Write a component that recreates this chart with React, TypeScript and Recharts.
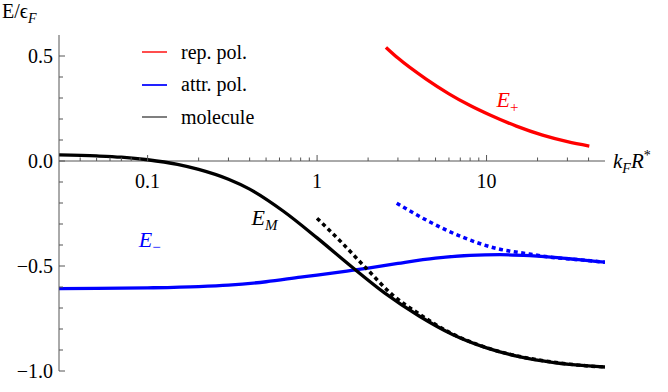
import React from "react";
import {
  LineChart,
  Line,
  XAxis,
  YAxis,
  ReferenceLine,
  ReferenceDot,
  Legend,
} from "recharts";

const W = 668;
const H = 392;
const MARGIN = { top: 35, right: 63, bottom: 0, left: 0 };
const Y_AXIS_W = 59;
const X_AXIS_H = 21;
const X_DOMAIN: [number, number] = [0.03, 50];
const Y_DOMAIN: [number, number] = [-1.0, 0.6];
const FONT = "'Liberation Serif', 'DejaVu Serif', serif";
const AXIS = "#555";

// molecule (solid)
const molX = [0.03, 0.05, 0.07, 0.1, 0.15, 0.2, 0.3, 0.4, 0.63, 1.0, 1.58, 2.5, 4.0, 6.3, 10, 15.8, 25, 40, 50];
const molY = [0.029, 0.024, 0.018, 0.006, -0.016, -0.04, -0.087, -0.134, -0.238, -0.366, -0.5, -0.628, -0.738, -0.826, -0.89, -0.933, -0.96, -0.976, -0.981];

// molecule asymptote (dotted)
const molAsyX = [1.0, 1.35, 1.95, 2.79, 4.0, 6.0, 9.0, 14, 22, 35, 50];
const molAsyY = [-0.273, -0.376, -0.511, -0.638, -0.728, -0.815, -0.876, -0.922, -0.952, -0.972, -0.981];

// attractive polaron (solid)
const attrX = [0.03, 0.05, 0.1, 0.2, 0.3, 0.5, 0.8, 1.0, 1.5, 2.0, 3.0, 5.0, 8.0, 12, 18, 25, 35, 50];
const attrY = [-0.608, -0.607, -0.604, -0.598, -0.591, -0.575, -0.553, -0.543, -0.524, -0.51, -0.488, -0.463, -0.449, -0.446, -0.451, -0.459, -0.47, -0.482];

// attractive polaron asymptote (dotted)
const attrAsyX = [2.95, 4.6, 7.23, 11.4, 17.9, 24.5, 35, 50];
const attrAsyY = [-0.201, -0.289, -0.363, -0.416, -0.443, -0.459, -0.47, -0.482];

// repulsive polaron
const repX = [2.55, 3.0, 4.4, 6.0, 8.0, 10.4, 15, 21.4, 30, 40.4];
const repY = [0.541, 0.49, 0.39, 0.32, 0.264, 0.22, 0.166, 0.123, 0.092, 0.071];

const xMajor = [0.1, 1, 10];
const xTicks = [0.04, 0.05, 0.06, 0.07, 0.08, 0.09, 0.1, 0.2, 0.3, 0.4, 0.5, 0.6, 0.7, 0.8, 0.9, 1, 2, 3, 4, 5, 6, 7, 8, 9, 10, 20, 30, 40];
const yMajor = [-1.0, -0.5, 0.0, 0.5];
const yTicks = [-1.0, -0.9, -0.8, -0.7, -0.6, -0.5, -0.4, -0.3, -0.2, -0.1, 0.0, 0.1, 0.2, 0.3, 0.4, 0.5];

const legendOrder = ["rep. pol.", "attr. pol.", "molecule"];
const legendColors: Record<string, string> = {
  "rep. pol.": "#ff4d4d",
  "attr. pol.": "#2222ff",
  molecule: "#7f7f7f",
};

const toPoints = (xs: number[], ys: number[]) => xs.map((x, i) => ({ x, y: ys[i] }));

const molData = toPoints(molX, molY);
const molAsyData = toPoints(molAsyX, molAsyY);
const attrData = toPoints(attrX, attrY);
const attrAsyData = toPoints(attrAsyX, attrAsyY);
const repData = toPoints(repX, repY);

// the x axis crosses at y = 0, so shift its ticks up from the plot bottom
const plotH = H - MARGIN.top - MARGIN.bottom - X_AXIS_H;
const zeroShift = (plotH * (0 - Y_DOMAIN[0])) / (Y_DOMAIN[1] - Y_DOMAIN[0]);

function XTick(props: any) {
  const { x, y, payload } = props;
  const v = payload.value;
  const major = xMajor.includes(v);
  const y0 = y - zeroShift;
  return (
    <g>
      <line x1={x} x2={x} y1={y0} y2={y0 - (major ? 6 : 3.5)} stroke={AXIS} strokeWidth={1} />
      {major && (
        <text x={x} y={y0 + 27} textAnchor="middle" style={{ fontFamily: FONT }} fontSize={20} fill="#000">
          {String(v)}
        </text>
      )}
    </g>
  );
}

function YTick(props: any) {
  const { x, y, payload } = props;
  const v = payload.value;
  const major = yMajor.some((m) => Math.abs(m - v) < 1e-9);
  const label = v.toFixed(1).replace("-", "\u2212");
  return (
    <g>
      <line x1={x} x2={x + (major ? 6 : 4)} y1={y} y2={y} stroke={AXIS} strokeWidth={1} />
      {major && (
        <text x={x - 6} y={y + 7} textAnchor="end" style={{ fontFamily: FONT }} fontSize={20} fill="#000">
          {label}
        </text>
      )}
    </g>
  );
}

function YLabel() {
  return (
    <text x={2} y={18} style={{ fontFamily: FONT }} fontSize={20} fill="#000">
      E/ϵ
      <tspan fontStyle="italic" fontSize={14} dy={5}>F</tspan>
    </text>
  );
}

function XLabel(props: any) {
  const vb = props.viewBox || { x: 59, y: 371, width: 546 };
  const x = vb.x + vb.width + 8;
  const y = vb.y - zeroShift + 7;
  return (
    <text x={x} y={y} style={{ fontFamily: FONT }} fontSize={21} fontStyle="italic" fill="#000">
      k
      <tspan fontSize={14} dy={5}>F</tspan>
      <tspan dy={-5}>R</tspan>
      <tspan fontSize={14} fontStyle="normal" dy={-8}>*</tspan>
    </text>
  );
}

function Annot(props: any) {
  const { viewBox, color, sub, subItalic } = props;
  const cx = viewBox.x + viewBox.width / 2;
  const cy = viewBox.y + viewBox.height / 2;
  return (
    <text x={cx} y={cy + 7} textAnchor="middle" style={{ fontFamily: FONT }} fontSize={22} fill={color}>
      <tspan fontStyle="italic">E</tspan>
      <tspan fontSize={15} dy={5} fontStyle={subItalic ? "italic" : "normal"}>{sub}</tspan>
    </text>
  );
}

function LegendBox(props: any) {
  const items = (props.payload || [])
    .filter((p: any) => legendColors[p.value])
    .sort((a: any, b: any) => legendOrder.indexOf(a.value) - legendOrder.indexOf(b.value));
  return (
    <div style={{ fontFamily: FONT, fontSize: 20, color: "#000" }}>
      {items.map((p: any) => (
        <div key={p.value} style={{ display: "flex", alignItems: "center", height: 32.5 }}>
          <span
            style={{
              display: "inline-block",
              width: 25,
              height: 0,
              borderTop: `2px solid ${legendColors[p.value]}`,
              marginRight: 14,
            }}
          />
          <span>{p.value}</span>
        </div>
      ))}
    </div>
  );
}

export default function App() {
  return (
    <div style={{ position: "absolute", left: 0, top: 0, width: W, height: H, background: "#fff", fontFamily: FONT }}>
      <LineChart width={W} height={H} margin={MARGIN} style={{ fontFamily: FONT }}>
        <XAxis
          dataKey="x"
          type="number"
          scale="log"
          domain={X_DOMAIN}
          allowDataOverflow
          ticks={xTicks}
          interval={0}
          height={X_AXIS_H}
          tickSize={0}
          tickMargin={0}
          axisLine={false}
          tickLine={false}
          tick={<XTick />}
          label={<XLabel />}
        />
        <YAxis
          type="number"
          domain={Y_DOMAIN}
          allowDataOverflow
          ticks={yTicks}
          interval={0}
          width={Y_AXIS_W}
          tickSize={0}
          tickMargin={0}
          axisLine={{ stroke: AXIS, strokeWidth: 1 }}
          tickLine={false}
          tick={<YTick />}
          label={<YLabel />}
        />
        <ReferenceLine y={0} stroke={AXIS} strokeWidth={1} />

        <Legend
          layout="vertical"
          align="center"
          verticalAlign="middle"
          content={<LegendBox />}
          wrapperStyle={{ top: 36, left: 142, width: 200 }}
        />

        <Line data={repData} dataKey="y" name="rep. pol." type="monotone" stroke="#ff0000" strokeWidth={3.3} dot={false} activeDot={false} isAnimationActive={false} />
        <Line data={attrData} dataKey="y" name="attr. pol." type="monotone" stroke="#0000ff" strokeWidth={3.3} dot={false} activeDot={false} isAnimationActive={false} />
        <Line data={molData} dataKey="y" name="molecule" type="monotone" stroke="#000000" strokeWidth={3.3} dot={false} activeDot={false} isAnimationActive={false} />
        <Line data={attrAsyData} dataKey="y" name="attr. asym." legendType="none" type="monotone" stroke="#0000ff" strokeWidth={3.5} strokeDasharray="4 3.5" dot={false} activeDot={false} isAnimationActive={false} />
        <Line data={molAsyData} dataKey="y" name="mol. asym." legendType="none" type="monotone" stroke="#000000" strokeWidth={3.5} strokeDasharray="4 3.5" dot={false} activeDot={false} isAnimationActive={false} />

        <ReferenceDot x={13.3} y={0.29} r={1} fill="none" stroke="none" label={<Annot color="#ff0000" sub="+" />} />
        <ReferenceDot x={0.49} y={-0.271} r={1} fill="none" stroke="none" label={<Annot color="#000000" sub="M" subItalic />} />
        <ReferenceDot x={0.103} y={-0.376} r={1} fill="none" stroke="none" label={<Annot color="#0000ff" sub={"\u2212"} />} />
      </LineChart>
    </div>
  );
}
